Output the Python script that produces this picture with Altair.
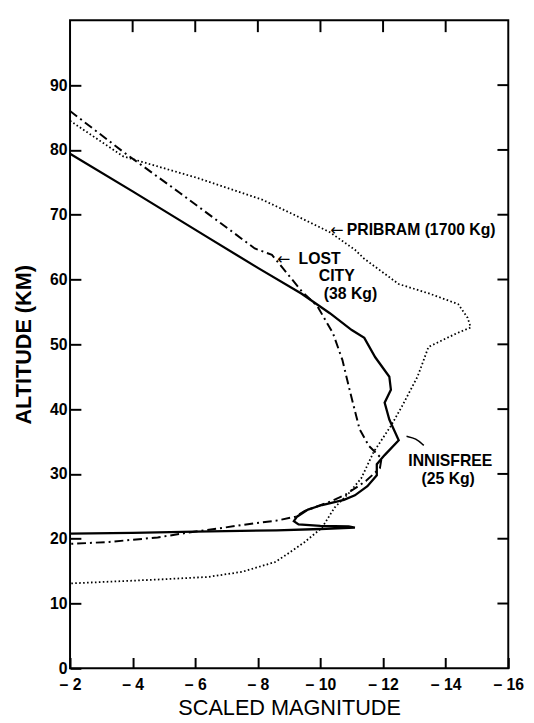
import altair as alt
import pandas as pd

# ---- data ----
inn_mag = [-2.0, -4.0, -6.4, -8.0, -9.4, -10.3, -11.0, -11.4, -11.75, -12.2, -12.25, -12.05,
           -12.2, -12.5, -12.05, -11.8, -11.8, -11.5, -11.1, -10.75, -10.05, -9.6, -9.25,
           -9.15, -9.3, -10.0, -10.9, -11.1, -10.0, -8.6, -6.0, -4.0, -2.0]
inn_alt = [79.4, 73.6, 66.5, 61.8, 57.8, 54.8, 52.2, 51.0, 48.0, 45.0, 43.0, 41.0,
           38.4, 35.2, 32.9, 31.5, 29.8, 28.1, 26.7, 26.0, 25.2, 24.5, 23.4,
           22.7, 22.2, 22.0, 21.9, 21.7, 21.5, 21.3, 21.1, 20.9, 20.8]

lc_mag = [-2.0, -3.7, -5.5, -7.9, -8.45, -9.4, -9.9, -10.4, -10.7, -10.95, -11.25, -11.55,
          -11.95, -11.9, -11.45, -10.8, -10.35, -9.5, -9.2, -8.6, -7.9, -6.9, -5.85, -4.8,
          -3.25, -2.0]
lc_alt = [86.0, 79.7, 73.4, 64.8, 63.8, 58.2, 55.9, 51.7, 47.6, 42.6, 36.9, 34.3,
          32.4, 30.9, 28.9, 26.8, 25.8, 24.3, 23.4, 22.8, 22.4, 21.7, 21.0, 20.2,
          19.5, 19.2]

pr_mag = [-2.0, -3.7, -6.05, -8.15, -9.2, -10.3, -11.1, -11.4, -12.5, -13.5, -14.4, -14.7,
          -14.8, -14.35, -13.45, -13.3, -13.1, -12.6, -12.25, -11.7, -11.3, -10.9, -10.45,
          -10.05, -9.5, -8.9, -8.55, -7.5, -6.4, -4.8, -2.0]
pr_alt = [84.5, 79.0, 75.7, 72.3, 69.9, 67.3, 64.6, 63.2, 59.3, 57.8, 56.2, 54.1,
          52.6, 51.7, 49.6, 47.6, 45.0, 40.4, 37.4, 33.4, 29.3, 27.0, 24.8,
          21.7, 19.5, 17.5, 16.4, 14.9, 14.1, 13.7, 13.1]

leader_mag = [-12.75, -13.05, -13.3]
leader_alt = [35.8, 35.5, 34.4]

label_text = ["PRIBRAM (1700 Kg)", "LOST", "CITY", "(38 Kg)", "INNISFREE", "(25 Kg)"]
label_mag = [-10.84, -9.30, -10.52, -10.96, -14.15, -14.08]
label_alt = [67.7, 63.1, 60.6, 57.8, 32.0, 29.2]
label_align = ["left", "left", "center", "center", "center", "center"]

arrow_text = ["←", "←"]
arrow_mag = [-10.52, -8.82]
arrow_alt = [67.7, 63.1]

x_ticks = [-2, -4, -6, -8, -10, -12, -14, -16]
y_ticks = [0, 10, 20, 30, 40, 50, 60, 70, 80, 90]

W, H = 445, 658
FONT = "Liberation Sans"

xscale = alt.Scale(domain=[-16, -2], reverse=True, nice=False, zero=False)
yscale = alt.Scale(domain=[0, 100], nice=False, zero=False)

xaxis = alt.Axis(values=x_ticks, labelExpr="'– ' + abs(datum.value)", tickSize=11, offset=-11,
                 domain=False, grid=False, tickColor="black", tickWidth=2,
                 labelFont=FONT, labelFontSize=16, labelFontWeight="bold", labelColor="black",
                 labelPadding=9, labelOverlap=False, labelFlush=False,
                 title="SCALED MAGNITUDE", titleFont=FONT, titleFontSize=22,
                 titleFontWeight="normal", titleColor="black", titlePadding=5)
yaxis = alt.Axis(values=y_ticks, tickSize=11, offset=-11, domain=False, grid=False,
                 tickColor="black", tickWidth=2,
                 labelFont=FONT, labelFontSize=16, labelFontWeight="bold", labelColor="black",
                 labelPadding=3, labelFlush=False,
                 title="ALTITUDE (KM)", titleFont=FONT, titleFontSize=22,
                 titleFontWeight="bold", titleColor="black", titlePadding=14)

X = alt.X("m:Q", scale=xscale, axis=xaxis)
Y = alt.Y("alt:Q", scale=yscale, axis=yaxis)


def line_df(m, a):
    return pd.DataFrame({"m": m, "alt": a, "i": list(range(len(m)))})


def line_layer(df, **mk):
    return alt.Chart(df).mark_line(color="black", **mk).encode(
        x=X, y=Y, order=alt.Order("i:Q"),
    )


inn = line_layer(line_df(inn_mag, inn_alt), strokeWidth=2.3)
lc = line_layer(line_df(lc_mag, lc_alt), strokeWidth=2.0, strokeDash=[9, 4, 2, 4])
pr = line_layer(line_df(pr_mag, pr_alt), strokeWidth=1.8, strokeDash=[1.6, 2.4])
leader = line_layer(line_df(leader_mag, leader_alt), strokeWidth=1.6, interpolate="basis")

top_ticks = alt.Chart(pd.DataFrame({"m": x_ticks[1:-1]})).mark_rule(color="black", strokeWidth=2).encode(
    x=X, y=alt.value(0), y2=alt.value(12),
)
right_ticks = alt.Chart(pd.DataFrame({"alt": y_ticks[1:]})).mark_rule(color="black", strokeWidth=2).encode(
    y=Y, x=alt.value(W - 11), x2=alt.value(W),
)

labels_df = pd.DataFrame({"t": label_text, "m": label_mag, "alt": label_alt, "al": label_align})
labels_left = alt.Chart(labels_df[labels_df.al == "left"]).mark_text(
    align="left", baseline="middle", font=FONT, fontSize=16, fontWeight="bold", color="black"
).encode(x=X, y=Y, text="t:N")
labels_center = alt.Chart(labels_df[labels_df.al == "center"]).mark_text(
    align="center", baseline="middle", font=FONT, fontSize=16, fontWeight="bold", color="black"
).encode(x=X, y=Y, text="t:N")
arrows = alt.Chart(pd.DataFrame({"t": arrow_text, "m": arrow_mag, "alt": arrow_alt})).mark_text(
    align="center", baseline="middle", font="DejaVu Sans", fontSize=16, color="black"
).encode(x=X, y=Y, text="t:N")

chart = alt.layer(
    pr, lc, inn, leader, top_ticks, right_ticks, labels_left, labels_center, arrows
).properties(
    width=W, height=H,
    autosize=alt.AutoSizeParams(type="none"),
    padding={"left": 63, "top": 7, "right": 18, "bottom": 50},
    background="white",
).configure_view(stroke="black", strokeWidth=2)

chart.save("out.html", embed_options={"renderer": "svg", "actions": False})
